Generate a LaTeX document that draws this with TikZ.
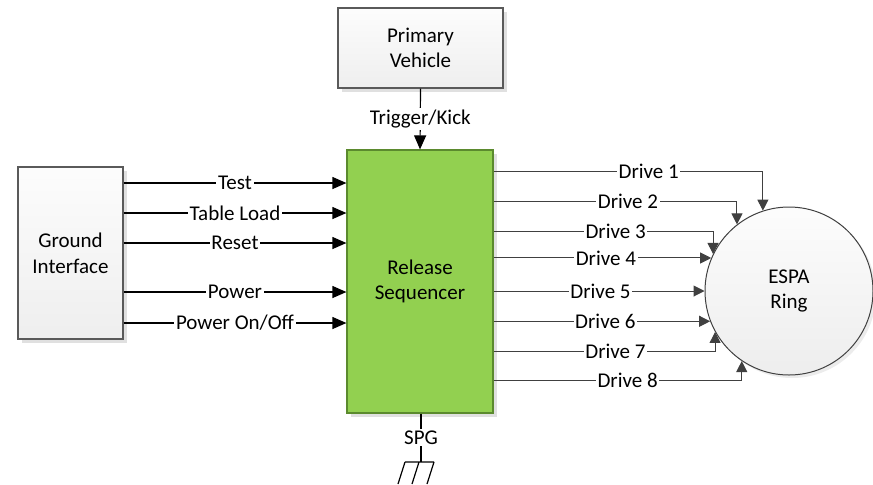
\documentclass[tikz,border=0pt]{standalone}
\usepackage{fontspec}
\setmainfont{Carlito}
\usetikzlibrary{arrows.meta,shadows,calc}

\definecolor{boxline}{HTML}{5A5A5A}
\definecolor{seqgreen}{HTML}{92D050}
\definecolor{seqline}{HTML}{5B8A2E}
\definecolor{wire}{HTML}{404040}
\definecolor{shade}{HTML}{E0E0E0}

\tikzset{
  txt/.style={font=\fontsize{10.5}{12.8}\selectfont, align=center},
  plainbox/.style={txt, draw=boxline, line width=0.6pt, inner sep=0pt,
    top color=white!99!black, bottom color=white!93.5!black,
    general shadow={fill=shade, shadow xshift=2pt, shadow yshift=-2pt}},
  seqbox/.style={txt, draw=seqline, line width=0.6pt, inner sep=0pt,
    fill=seqgreen,
    general shadow={fill=shade, shadow xshift=2pt, shadow yshift=-2pt}},
  ringnode/.style={txt, circle, draw=wire, line width=0.5pt, inner sep=0pt,
    minimum size=84pt, top color=white!99!black, bottom color=white!93!black,
    general shadow={fill=shade!60, shadow xshift=1.5pt, shadow yshift=-1.5pt}},
  sig/.style={line width=0.6pt, draw=black,
    -{Triangle[length=7pt,width=6pt]}},
  drv/.style={line width=0.5pt, draw=wire,
    -{Triangle[length=5.5pt,width=5.5pt]}},
  lbl/.style={txt, fill=white, inner sep=0.8pt},
}

\begin{document}
\begin{tikzpicture}[x=0.5pt, y=-0.5pt]
\useasboundingbox (0,0) rectangle (873,484);

% blocks
\node[plainbox, minimum width=82.5pt, minimum height=40pt] (pv) at (420.5,48) {Primary\\Vehicle};
\node[plainbox, minimum width=52.5pt, minimum height=86pt] (gi) at (70.5,253) {Ground\\Interface};
\node[seqbox, minimum width=73pt, minimum height=131.5pt] (sq) at (420,281.5) {Release\\Sequencer};
\node[ringnode] (ring) at (789,291) {ESPA\\Ring};

% trigger from the primary vehicle
\draw[sig] (pv.south) -- node[lbl] {Trigger/Kick} (sq.north);

% ground interface signals
\coordinate (in1) at (0,183);
\coordinate (in2) at (0,213);
\coordinate (in3) at (0,243);
\coordinate (in4) at (0,292);
\coordinate (in5) at (0,323);
\draw[sig] (gi.east |- in1) -- node[lbl] {Test} (sq.west |- in1);
\draw[sig] (gi.east |- in2) -- node[lbl] {Table Load} (sq.west |- in2);
\draw[sig] (gi.east |- in3) -- node[lbl] {Reset} (sq.west |- in3);
\draw[sig] (gi.east |- in4) -- node[lbl] {Power} (sq.west |- in4);
\draw[sig] (gi.east |- in5) -- node[lbl] {Power On/Off} (sq.west |- in5);

% drive lines to the ring
\coordinate (d1) at (0,171);
\coordinate (d2) at (0,201);
\coordinate (d3) at (0,231);
\coordinate (d7) at (0,351);
\coordinate (d8) at (0,380);
\draw[drv] (sq.east |- d1) -| node[lbl, pos=0.288] {Drive 1} (ring.108);
\draw[drv] (sq.east |- d2) -| node[lbl, pos=0.276] {Drive 2} (ring.128.2);
\draw[drv] (sq.east |- d3) -| node[lbl, pos=0.278] {Drive 3} (ring.154.8);
\draw[drv] (sq.east |- ring.157.6) -- node[lbl, pos=0.516] {Drive 4} (ring.157.6);
\draw[drv] (sq.east |- ring.180) -- node[lbl, pos=0.507] {Drive 5} (ring.180);
\draw[drv] (sq.east |- ring.201.7) -- node[lbl, pos=0.516] {Drive 6} (ring.201.7);
\draw[drv] (sq.east |- d7) -| node[lbl, pos=0.275] {Drive 7} (ring.209.7);
\draw[drv] (sq.east |- d8) -| node[lbl, pos=0.27] {Drive 8} (ring.236);

% signal ground
\coordinate (gnd) at (421,462);
\draw[line width=0.6pt] (sq.south -| gnd) -- node[lbl] {SPG} (gnd);
\draw[line width=0.6pt] (405,462) -- (434,462)
  (405,462) -- (398,484) (419,462) -- (412,484) (434,462) -- (427,484);
\end{tikzpicture}
\end{document}
